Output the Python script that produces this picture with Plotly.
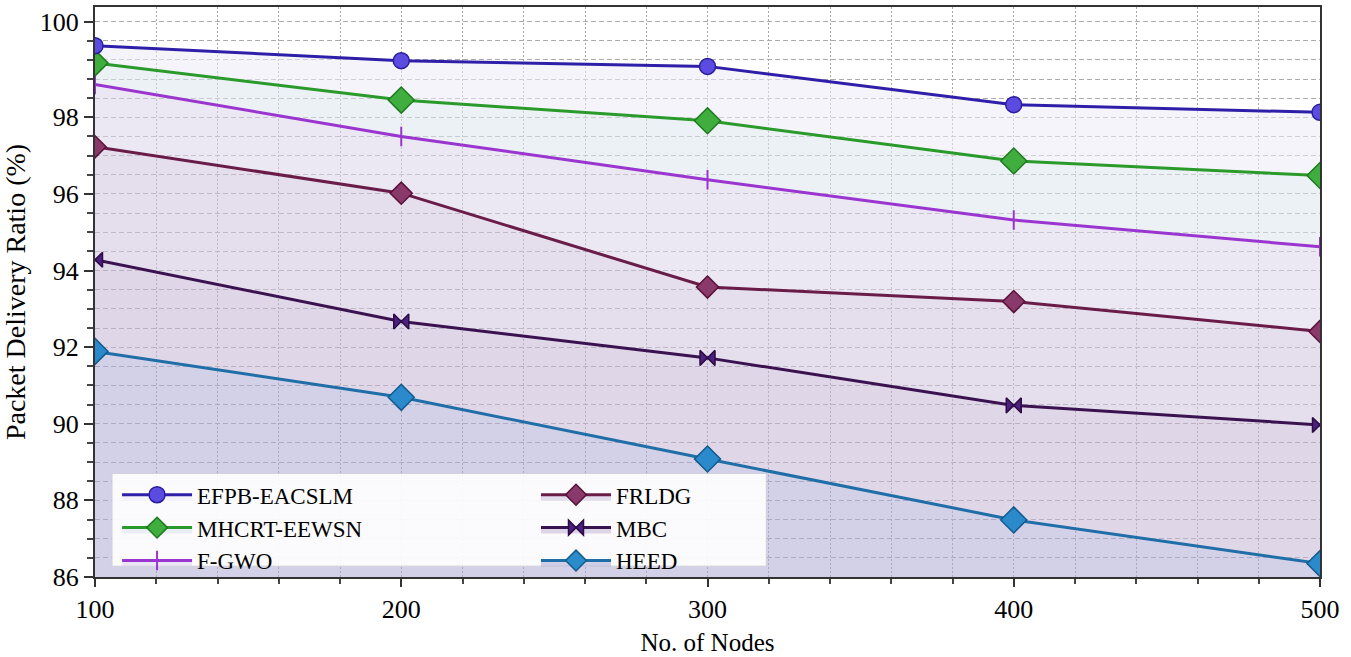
import plotly.graph_objects as go

nodes = [100, 200, 300, 400, 500]
efpb = [99.87, 99.48, 99.33, 98.33, 98.13]
mhcrt = [99.42, 98.45, 97.91, 96.86, 96.48]
fgwo = [98.86, 97.50, 96.37, 95.32, 94.62]
frldg = [97.23, 96.02, 93.57, 93.19, 92.41]
mbc = [94.28, 92.67, 91.72, 90.48, 89.97]
heed = [91.89, 90.69, 89.08, 87.49, 86.35]

y_tickvals = [86, 88, 90, 92, 94, 96, 98, 100.5]
y_ticktext = ["86", "88", "90", "92", "94", "96", "98", "100"]
x_tickvals = [100, 200, 300, 400, 500]

SERIF = "Liberation Serif"

# drawn bottom-up so each band fills to the series below it
series = [
    # name, data, line color, symbol, size, marker fill, marker outline, band colour, fill mode, legend, rank
    ("HEED", heed, "#1f6ea8", "diamond", 20, "#2a8acc", "#145a8c", "rgba(175,172,212,0.55)", "tozeroy", "legend2", 3),
    ("MBC", mbc, "#3a1250", "bowtie", 15, "#4a2080", "#2d0c45", "rgba(196,180,214,0.55)", "tonexty", "legend2", 2),
    ("FRLDG", frldg, "#6a1c48", "diamond", 17, "#8a3a6a", "#5a1038", "rgba(206,194,222,0.55)", "tonexty", "legend2", 1),
    ("F-GWO", fgwo, "#9a35d0", "line-ns", 14, "#9a35d0", "#9a35d0", "rgba(218,212,234,0.55)", "tonexty", "legend", 3),
    ("MHCRT-EEWSN", mhcrt, "#2a9a2a", "diamond", 20, "#3fae3f", "#1e7a1e", "rgba(218,230,236,0.55)", "tonexty", "legend", 2),
    ("EFPB-EACSLM", efpb, "#2f1fa8", "circle", 16, "#5b4be0", "#2a1d9c", "rgba(236,235,248,0.55)", "tonexty", "legend", 1),
]

fig = go.Figure()
for name, ys, lc, sym, msz, mfill, mline, fillc, fmode, lg, rank in series:
    fig.add_trace(go.Scatter(
        x=nodes, y=ys, name=name, mode="lines+markers",
        line=dict(color=lc, width=3),
        marker=dict(symbol=sym, size=msz, color=mfill,
                    line=dict(color=mline, width=2 if sym == "line-ns" else 1.5)),
        fill=fmode, fillcolor=fillc,
        legend=lg, legendrank=rank,
    ))

# legend background box
fig.add_shape(type="rect", xref="paper", yref="paper",
              x0=0.0139, x1=0.548, y0=0.019, y1=0.1816,
              fillcolor="rgba(255,255,255,0.9)", line=dict(color="#d0d0d8", width=1),
              layer="above")

legend_common = dict(
    bgcolor="rgba(0,0,0,0)", borderwidth=0,
    font=dict(family=SERIF, size=23, color="#000"),
    orientation="v", xanchor="left", yanchor="top",
    tracegroupgap=0, itemwidth=70, traceorder="normal",
)

fig.update_layout(
    width=1351, height=657,
    margin=dict(l=95, r=31, t=5, b=75),
    paper_bgcolor="white", plot_bgcolor="white",
    font=dict(family=SERIF, color="#000"),
    legend=dict(x=0.018, y=0.182, **legend_common),
    legend2=dict(x=0.36, y=0.182, **legend_common),
    xaxis=dict(
        range=[100, 500], tickvals=x_tickvals,
        tickfont=dict(family=SERIF, size=26),
        title=dict(text="No. of Nodes", font=dict(family=SERIF, size=25), standoff=10),
        showline=True, linecolor="#333", linewidth=2, mirror=True,
        ticks="outside", ticklen=8, tickwidth=2, tickcolor="#333",
        showgrid=True, gridcolor="#a8a8a8", gridwidth=1.2, griddash="2px,2px",
        minor=dict(dtick=20, tick0=100, ticks="outside", ticklen=5, tickwidth=2, tickcolor="#444",
                   showgrid=True, gridcolor="#a8a8a8", gridwidth=1.2, griddash="2px,2px"),
        zeroline=False,
    ),
    yaxis=dict(
        range=[86, 100.88], tickvals=y_tickvals, ticktext=y_ticktext,
        tickfont=dict(family=SERIF, size=26),
        title=dict(text="Packet Delivery Ratio (%)", font=dict(family=SERIF, size=28), standoff=8),
        showline=True, linecolor="#333", linewidth=2, mirror=True,
        ticks="outside", ticklen=9, tickwidth=2, tickcolor="#333",
        showgrid=True, gridcolor="#ababab", gridwidth=1.2, griddash="5px,3px",
        minor=dict(dtick=0.5, tick0=86, ticks="outside", ticklen=6, tickwidth=2, tickcolor="#444",
                   showgrid=True, gridcolor="#ababab", gridwidth=1.2, griddash="5px,3px"),
        zeroline=False,
    ),
)

fig.write_html("out.html")
